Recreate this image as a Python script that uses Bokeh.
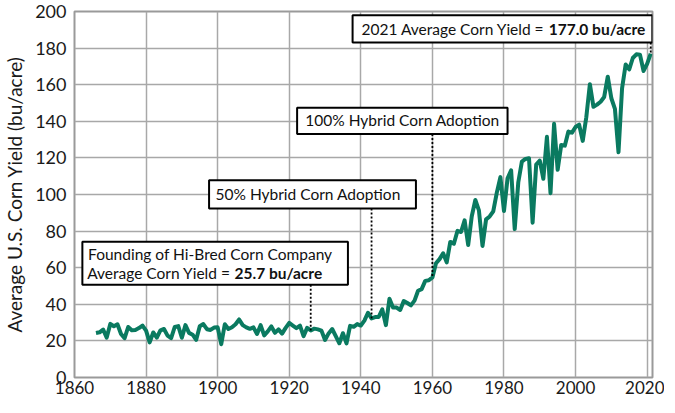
from bokeh.plotting import figure
from bokeh.models import FixedTicker
from bokeh.core.properties import value
from bokeh.embed import file_html
from bokeh.resources import INLINE

# ---------------- data ----------------
years = list(range(1866, 2022))
yields = [
    24.3, 24.7, 26.2, 21.8, 29.3, 28.0, 29.1, 23.8, 21.5, 27.6,
    25.8, 26.0, 27.0, 28.4, 25.6, 19.2, 24.6, 21.8, 25.8, 26.5,
    22.9, 21.5, 27.6, 28.1, 21.7, 28.6, 24.4, 23.4, 20.6, 28.0,
    29.2, 26.4, 26.0, 27.3, 27.4, 18.2, 29.1, 26.5, 27.5, 29.1,
    31.7, 28.6, 27.4, 26.6, 27.4, 23.8, 28.6, 23.0, 25.2, 27.9,
    24.4, 26.3, 24.0, 27.1, 29.8, 28.4, 27.0, 28.3, 22.6, 27.1,
    25.7, 26.7, 26.3, 25.6, 20.5, 24.1, 26.5, 22.6, 18.7, 24.2,
    18.6, 28.2, 27.7, 29.2, 28.4, 31.1, 35.4, 32.3, 33.0, 33.1,
    37.2, 28.6, 43.0, 38.2, 38.2, 36.9, 41.8, 40.7, 39.4, 42.0,
    47.4, 48.3, 52.8, 53.1, 54.7, 62.4, 64.7, 67.9, 62.9, 74.1,
    73.1, 80.1, 79.5, 85.9, 72.4, 88.1, 97.0, 91.3, 71.9, 86.4,
    88.0, 90.8, 101.0, 109.5, 91.0, 108.9, 113.2, 81.1, 106.7, 118.0,
    119.4, 119.8, 84.6, 116.3, 118.5, 108.6, 131.5, 100.7, 138.6, 113.5,
    127.1, 126.7, 134.4, 133.8, 136.9, 138.2, 129.3, 142.2, 160.3, 147.9,
    149.1, 150.7, 153.3, 164.4, 152.6, 146.8, 123.1, 158.1, 171.0, 168.4,
    174.6, 176.6, 176.4, 167.5, 171.4, 177.0,
]

x_ticks = [1860, 1880, 1900, 1920, 1940, 1960, 1980, 2000, 2020]
y_ticks = [0, 20, 40, 60, 80, 100, 120, 140, 160, 180, 200]

# annotation events (year the dotted leader points at)
event_years = [1926, 1943, 1960, 2021]
# boxes in data units: left, right, bottom, top
box_left = [1862.2, 1897.6, 1922.2, 1937.7]
box_right = [1936.4, 1955.4, 1981.0, 2021.45]
box_bottom = [50.7, 92.4, 133.1, 183.0]
box_top = [74.2, 107.8, 147.4, 197.9]

# plain text lines
plain_x = [1863.8, 1899.4, 1924.5]
plain_y = [67.4, 100.1, 140.8]
plain_text = ["Founding of Hi-Bred Corn Company",
              "50% Hybrid Corn Adoption",
              "100% Hybrid Corn Adoption"]
# lines with a bold value: split point x, y, normal part, bold part
mixed_x = [1904.7, 1992.5]
mixed_y = [57.3, 190.5]
mixed_plain = ["Average Corn Yield =", "2021 Average Corn Yield ="]
mixed_bold = ["25.7 bu/acre", "177.0 bu/acre"]

FONT = "Lato"
LINE_COLOR = "#0a7a60"
ANN_SIZE = "15.5px"

p = figure(width=664, height=397, x_range=(1860, 2021.5), y_range=(0, 200),
           output_backend="svg", toolbar_location=None,
           min_border_left=69, min_border_top=11, min_border_right=12,
           min_border_bottom=20)
p.background_fill_color = "white"
p.outline_line_color = "#9a9a9a"
p.outline_line_width = 2

p.xaxis.ticker = FixedTicker(ticks=x_ticks)
p.yaxis.ticker = FixedTicker(ticks=y_ticks)
p.xgrid.grid_line_color = "#a8a8a8"
p.ygrid.grid_line_color = "#a8a8a8"
p.xgrid.grid_line_width = 1.5
p.ygrid.grid_line_width = 1.5

for ax in (p.xaxis, p.yaxis):
    ax.axis_line_color = None
    ax.major_tick_line_color = None
    ax.minor_tick_line_color = None
    ax.major_tick_out = 0
    ax.major_tick_in = 0
    ax.minor_tick_out = 0
    ax.minor_tick_in = 0
    ax.major_label_text_font = FONT
    ax.major_label_text_color = "#1a1a1a"
p.xaxis.major_label_text_font_size = "17px"
p.yaxis.major_label_text_font_size = "18px"
p.xaxis.major_label_standoff = 3
p.yaxis.major_label_standoff = 8
p.yaxis.axis_label = "Average U.S. Corn Yield (bu/acre)"
p.yaxis.axis_label_text_font = FONT
p.yaxis.axis_label_text_font_size = "19px"
p.yaxis.axis_label_text_font_style = "normal"
p.yaxis.axis_label_text_color = "#1a1a1a"
p.yaxis.axis_label_standoff = 6

p.line(years, yields, line_width=4, line_color=LINE_COLOR, line_join="round")

# dotted leaders from box bottom to the data value
lead_y1 = [yields[years.index(y)] for y in event_years]
p.segment(x0=event_years, y0=box_bottom, x1=event_years, y1=lead_y1,
          line_color="black", line_width=1.8, line_dash="2 2")

p.quad(left=box_left, right=box_right, bottom=box_bottom, top=box_top,
       fill_color="white", line_color="black", line_width=2)

p.text(x=plain_x, y=plain_y, text=plain_text, text_font=value(FONT),
       text_font_size=ANN_SIZE, text_baseline="middle", text_align="left",
       text_color="#111111")
p.text(x=mixed_x, y=mixed_y, text=mixed_plain, text_font=value(FONT),
       text_font_size=ANN_SIZE, text_baseline="middle", text_align="right",
       text_color="#111111", x_offset=-4)
p.text(x=mixed_x, y=mixed_y, text=mixed_bold, text_font=value(FONT),
       text_font_size=ANN_SIZE, text_font_style="bold", text_baseline="middle",
       text_align="left", text_color="#111111")

open("out.html", "w").write(file_html(p, INLINE))
